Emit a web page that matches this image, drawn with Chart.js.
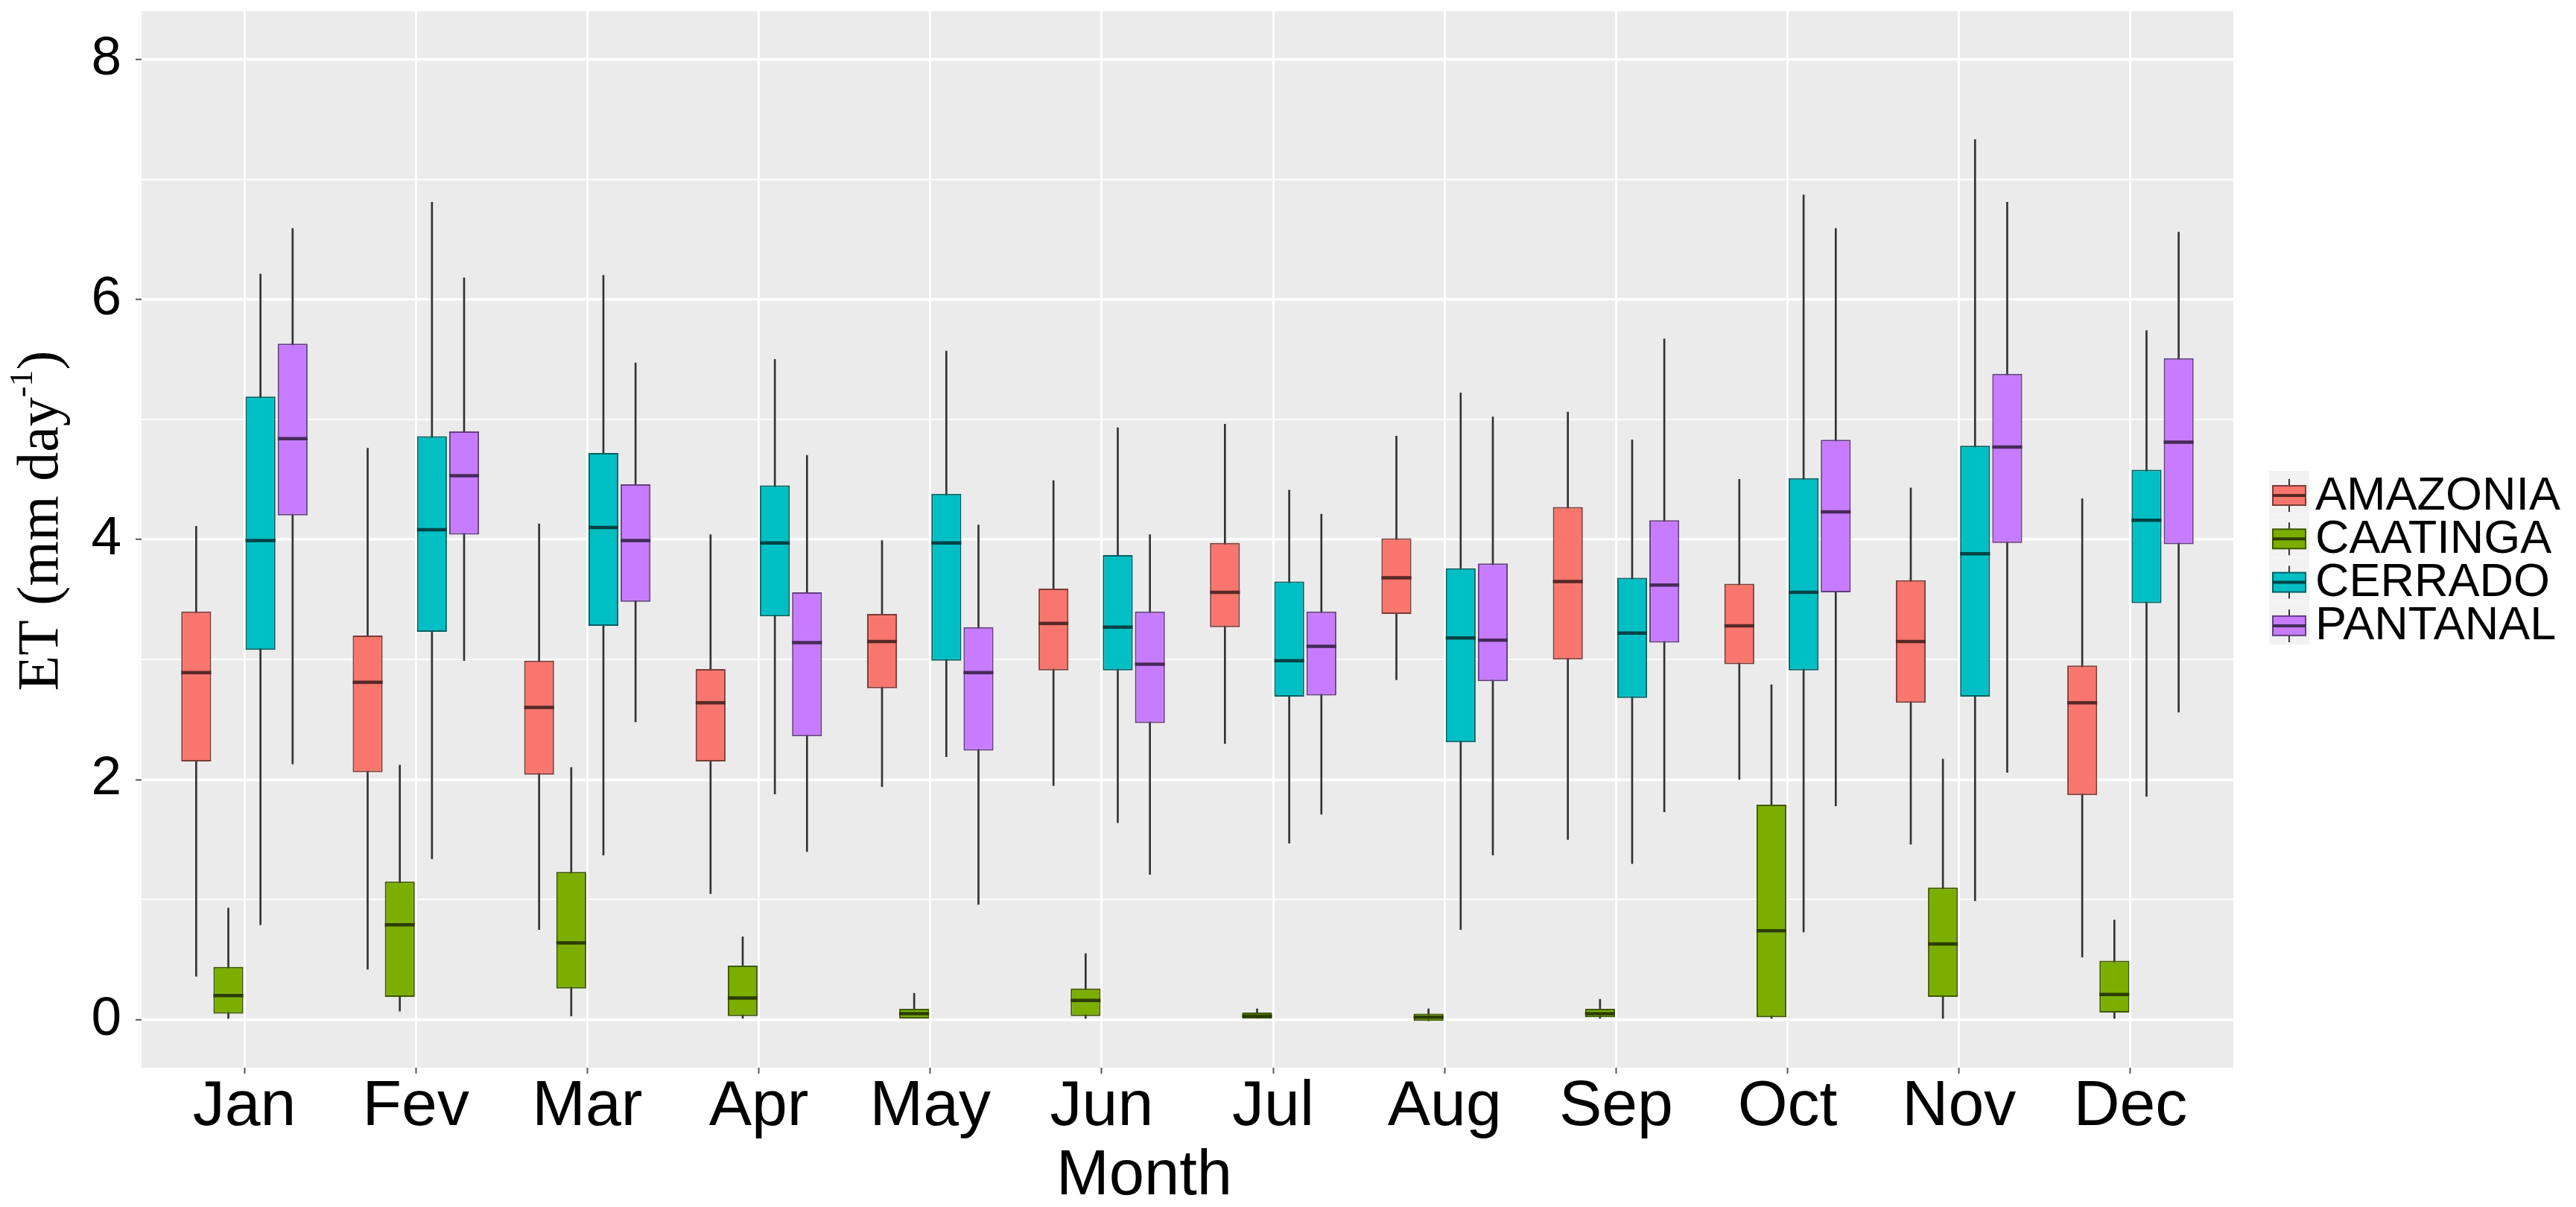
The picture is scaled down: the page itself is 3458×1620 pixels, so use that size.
<!DOCTYPE html>
<html lang="en">
<head>
<meta charset="UTF-8">
<title>ET per month and biome</title>
<script src="https://cdn.jsdelivr.net/npm/chart.js@4.4.1/dist/chart.umd.min.js"></script>
<style>
  html, body { margin: 0; padding: 0; background: #fff; }
  canvas { display: block; }
</style>
</head>
<body>
<canvas id="etChart" width="3458" height="1620"></canvas>
<script>
const months = ['Jan', 'Fev', 'Mar', 'Apr', 'May', 'Jun', 'Jul', 'Aug', 'Sep', 'Oct', 'Nov', 'Dec'];
const regions = ['AMAZONIA', 'CAATINGA', 'CERRADO', 'PANTANAL'];
const fills = ['#F8766D', '#7CAE00', '#00BFC4', '#C77CFF'];
const yMajor = [0, 2, 4, 6, 8];
const yMinor = [1, 3, 5, 7];

// one row per month: [lower whisker, Q1, median, Q3, upper whisker]
const amazonia = [
  [0.36, 2.15, 2.89, 3.40, 4.11], [0.42, 2.06, 2.81, 3.20, 4.76], [0.75, 2.04, 2.60, 2.99, 4.13],
  [1.05, 2.15, 2.64, 2.92, 4.04], [1.94, 2.76, 3.15, 3.38, 3.99], [1.95, 2.91, 3.30, 3.59, 4.49],
  [2.30, 3.27, 3.56, 3.97, 4.96], [2.83, 3.38, 3.68, 4.01, 4.86], [1.50, 3.00, 3.65, 4.27, 5.06],
  [2.00, 2.96, 3.28, 3.63, 4.50], [1.46, 2.64, 3.15, 3.66, 4.43], [0.52, 1.87, 2.64, 2.95, 4.34]
];
const caatinga = [
  [0.01, 0.05, 0.20, 0.44, 0.93], [0.07, 0.19, 0.79, 1.15, 2.12], [0.03, 0.26, 0.64, 1.23, 2.10],
  [0.00, 0.03, 0.18, 0.45, 0.69], [0.00, 0.01, 0.05, 0.09, 0.22], [0.01, 0.03, 0.16, 0.26, 0.55],
  [0.00, 0.01, 0.03, 0.06, 0.09], [-0.01, -0.01, 0.02, 0.05, 0.09], [0.00, 0.02, 0.05, 0.09, 0.17],
  [0.01, 0.02, 0.74, 1.79, 2.79], [0.01, 0.19, 0.63, 1.10, 2.17], [0.01, 0.06, 0.21, 0.49, 0.83]
];
const cerrado = [
  [0.79, 3.08, 3.99, 5.19, 6.21], [1.34, 3.23, 4.08, 4.86, 6.81], [1.37, 3.28, 4.10, 4.72, 6.20],
  [1.88, 3.36, 3.97, 4.45, 5.50], [2.19, 2.99, 3.97, 4.38, 5.57], [1.64, 2.91, 3.27, 3.87, 4.93],
  [1.47, 2.69, 2.99, 3.65, 4.41], [0.75, 2.31, 3.18, 3.76, 5.22], [1.30, 2.68, 3.22, 3.68, 4.83],
  [0.73, 2.91, 3.56, 4.51, 6.87], [0.99, 2.69, 3.88, 4.78, 7.33], [1.86, 3.47, 4.16, 4.58, 5.74]
];
const pantanal = [
  [2.13, 4.20, 4.84, 5.63, 6.59], [2.99, 4.04, 4.53, 4.90, 6.18], [2.48, 3.48, 3.99, 4.46, 5.47],
  [1.40, 2.36, 3.14, 3.56, 4.70], [0.96, 2.24, 2.89, 3.27, 4.12], [1.21, 2.47, 2.96, 3.40, 4.04],
  [1.71, 2.70, 3.11, 3.40, 4.21], [1.37, 2.82, 3.16, 3.80, 5.02], [1.73, 3.14, 3.62, 4.16, 5.67],
  [1.78, 3.56, 4.23, 4.83, 6.59], [2.06, 3.97, 4.77, 5.38, 6.81], [2.56, 3.96, 4.81, 5.51, 6.56]
];
const series = [amazonia, caatinga, cerrado, pantanal];

const dodge = 0.1875;     // distance between boxes of one month (x units)
const boxRatio = 0.93;    // box width as part of dodge
const sans = 'Liberation Sans, Arial, sans-serif';
const serif = 'Liberation Serif, Times New Roman, serif';

function shade(hex, f) {
  const n = parseInt(hex.slice(1), 16);
  const r = Math.round(((n >> 16) & 255) * f), g = Math.round(((n >> 8) & 255) * f), b = Math.round((n & 255) * f);
  return `rgb(${r},${g},${b})`;
}

const halfBox = ctx => {
  const x = ctx.chart.scales.x;
  return Math.abs(x.getPixelForValue(dodge * boxRatio) - x.getPixelForValue(0)) / 2;
};

const datasets = [];
series.forEach((rows, s) => {
  const off = (s - 1.5) * dodge;
  datasets.push({
    type: 'bar', label: regions[s] + ' whisker',
    data: rows.map((r, m) => ({ x: m + 1 + off, y: [r[0], r[4]] })),
    backgroundColor: '#333333', borderWidth: 0, barThickness: 2, grouped: false, order: 3
  });
  datasets.push({
    type: 'bar', label: regions[s],
    data: rows.map((r, m) => ({ x: m + 1 + off, y: [r[1], r[3]] })),
    backgroundColor: fills[s], borderColor: shade(fills[s], 0.5), borderWidth: 2, borderSkipped: false,
    grouped: false, categoryPercentage: 1, barPercentage: boxRatio, order: 2
  });
  datasets.push({
    type: 'scatter', label: regions[s] + ' median',
    data: rows.map((r, m) => ({ x: m + 1 + off, y: r[2] })),
    pointStyle: 'line', pointRadius: halfBox, pointBorderColor: shade(fills[s], 0.35),
    pointBorderWidth: 4.5, order: 1
  });
});

// grey panel behind the grid
const panelBg = {
  id: 'panelBg',
  beforeDraw(chart) {
    const { ctx, chartArea: a } = chart;
    ctx.save();
    ctx.fillStyle = '#ffffff';
    ctx.fillRect(0, 0, chart.width, chart.height);
    ctx.fillStyle = '#EBEBEB';
    ctx.fillRect(a.left, a.top, a.right - a.left, a.bottom - a.top);
    ctx.restore();
  }
};

// axis titles and ggplot style legend
const decorations = {
  id: 'decorations',
  afterDraw(chart) {
    const { ctx } = chart;
    ctx.save();
    ctx.fillStyle = '#000';

    ctx.font = `85px ${sans}`;
    ctx.textAlign = 'center';
    ctx.textBaseline = 'alphabetic';
    ctx.fillText('Month', 1536, 1603);

    // y title with superscript
    const main = 'ET (mm day', sup = '-1', end = ')';
    ctx.font = `78px ${serif}`;
    const w1 = ctx.measureText(main).width, w3 = ctx.measureText(end).width;
    ctx.font = `44px ${serif}`;
    const w2 = ctx.measureText(sup).width;
    const total = w1 + w2 + w3;
    ctx.translate(77, 699);
    ctx.rotate(-Math.PI / 2);
    ctx.textAlign = 'left';
    let x0 = -total / 2;
    ctx.font = `78px ${serif}`;
    ctx.fillText(main, x0, 0);
    ctx.font = `44px ${serif}`;
    ctx.fillText(sup, x0 + w1, -34);
    ctx.font = `78px ${serif}`;
    ctx.fillText(end, x0 + w1 + w2, 0);
    ctx.setTransform(1, 0, 0, 1, 0, 0);

    // legend
    regions.forEach((name, s) => {
      const cy = 661 + s * 58.3;
      const ky = cy + 4;
      ctx.fillStyle = '#F2F2F2';
      ctx.fillRect(3046, cy - 29, 54, 58);
      ctx.strokeStyle = '#333';
      ctx.lineWidth = 2;
      ctx.beginPath();
      ctx.moveTo(3073, ky - 22);
      ctx.lineTo(3073, ky + 22);
      ctx.stroke();
      ctx.fillStyle = fills[s];
      ctx.fillRect(3051, ky - 13, 44, 26);
      ctx.strokeStyle = shade(fills[s], 0.5);
      ctx.strokeRect(3051, ky - 13, 44, 26);
      ctx.strokeStyle = shade(fills[s], 0.35);
      ctx.lineWidth = 4;
      ctx.beginPath();
      ctx.moveTo(3051, ky);
      ctx.lineTo(3095, ky);
      ctx.stroke();
      ctx.fillStyle = '#000';
      ctx.font = `63px ${sans}`;
      ctx.textAlign = 'left';
      ctx.textBaseline = 'alphabetic';
      ctx.fillText(name, 3108, cy + 22.5);
    });
    ctx.restore();
  }
};

new Chart(document.getElementById('etChart'), {
  type: 'bar',
  data: { datasets },
  plugins: [panelBg, decorations],
  options: {
    responsive: false,
    devicePixelRatio: 1,
    animation: false,
    events: [],
    layout: { padding: { left: 0, top: 15, right: 460, bottom: 0 } },
    plugins: { legend: { display: false }, tooltip: { enabled: false } },
    scales: {
      x: {
        type: 'linear', min: 0.4, max: 12.6, offset: false,
        afterBuildTicks: s => { s.ticks = months.map((_, i) => ({ value: i + 1 })); },
        afterFit: s => { s.height = 187; s.paddingLeft = 0; s.paddingRight = 0; },
        ticks: {
          callback: v => months[v - 1] || '',
          font: { family: sans, size: 86, lineHeight: 1 }, color: '#000',
          padding: 2, maxRotation: 0, autoSkip: false
        },
        grid: { color: '#ffffff', lineWidth: 3, tickLength: 8, tickWidth: 2, tickColor: '#555', offset: false },
        border: { display: false }
      },
      y: {
        type: 'linear', min: -0.4, max: 8.4,
        afterBuildTicks: s => { s.ticks = yMajor.concat(yMinor).sort((a, b) => a - b).map(v => ({ value: v })); },
        afterFit: s => { s.width = 190; s.paddingTop = 0; s.paddingBottom = 0; },
        ticks: {
          callback: v => yMajor.includes(v) ? String(v) : '',
          font: { family: sans, size: 73, lineHeight: 1 }, color: '#000', padding: 19
        },
        grid: {
          color: '#ffffff',
          lineWidth: c => yMajor.includes(c.tick.value) ? 3.5 : 2,
          tickLength: 8, tickWidth: 2,
          tickColor: c => yMajor.includes(c.tick.value) ? '#555' : 'rgba(0,0,0,0)'
        },
        border: { display: false }
      }
    }
  }
});
</script>
</body>
</html>
